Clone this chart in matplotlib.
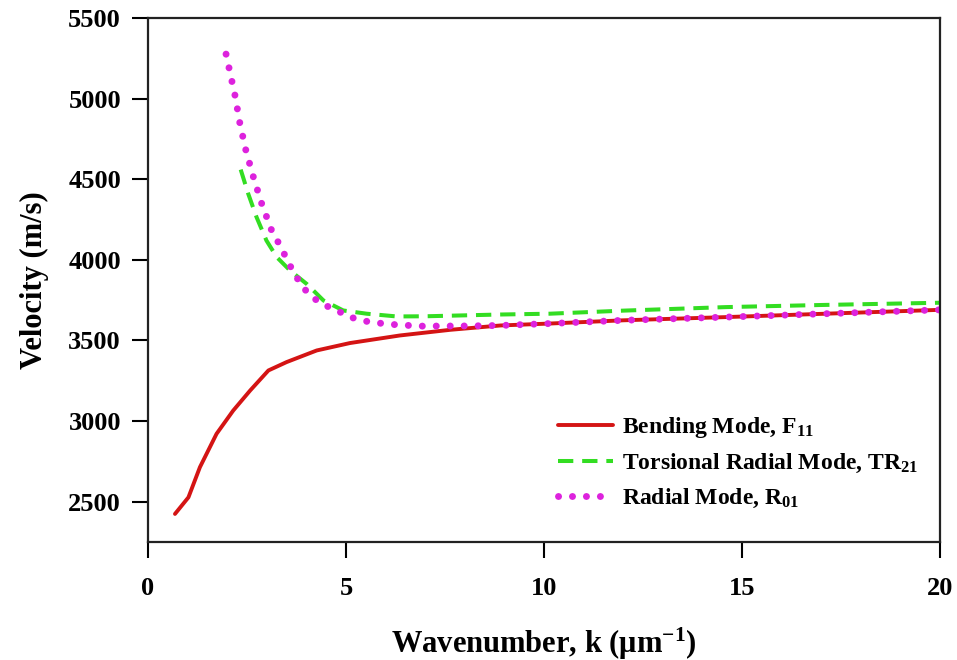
import matplotlib
matplotlib.use("Agg")
import matplotlib.pyplot as plt

# Bending mode F11
k_bend = [0.68, 1.02, 1.31, 1.73, 2.15, 2.58, 3.04, 3.50, 4.26, 5.10, 6.36, 7.63, 8.9, 10.15, 12.0, 14.6, 17.0, 20.0]
v_bend = [2424, 2527, 2714, 2921, 3065, 3190, 3314, 3366, 3438, 3484, 3531, 3566, 3593, 3605, 3625, 3645, 3665, 3690]

# Torsional radial mode TR21
k_tr = [2.34, 2.53, 2.74, 2.99, 3.25, 3.59, 4.01, 4.43, 4.93, 5.52, 6.28, 7.0, 8.9, 10.15, 12.0, 14.6, 17.0, 20.0]
v_tr = [4560, 4410, 4265, 4120, 4017, 3933, 3850, 3748, 3686, 3666, 3649, 3650, 3661, 3666, 3685, 3707, 3720, 3734]

# Radial mode R01
k_rad = [1.97, 2.20, 2.32, 2.47, 2.66, 2.87, 3.12, 3.33, 3.50, 3.67, 3.88, 4.09, 4.39, 4.77, 5.10, 5.48, 5.86, 6.19, 6.87, 8.05, 8.9, 10.15, 12.0, 14.6, 17.0, 20.0]
v_rad = [5276, 5015, 4846, 4680, 4514, 4349, 4183, 4090, 4007, 3924, 3841, 3779, 3727, 3686, 3645, 3620, 3607, 3599, 3589, 3590, 3593, 3605, 3625, 3645, 3665, 3690]

x_ticks = [0, 5, 10, 15, 20]
y_ticks = [2500, 3000, 3500, 4000, 4500, 5000, 5500]

plt.rcParams['font.family'] = ['Liberation Serif', 'DejaVu Serif']
plt.rcParams['font.weight'] = 'bold'
plt.rcParams['mathtext.fontset'] = 'custom'
plt.rcParams['mathtext.rm'] = 'Liberation Serif:bold'
plt.rcParams['mathtext.it'] = 'Liberation Serif:bold'
plt.rcParams['mathtext.bf'] = 'Liberation Serif:bold'

fig = plt.figure(figsize=(9.57, 6.6), dpi=100)
ax = fig.add_axes([0.1547, 0.1788, 0.8275, 0.7939])

ax.plot(k_bend, v_bend, color='#d41414', lw=2.8, solid_capstyle='round',
        label='Bending Mode, F$_{11}$')
ax.plot(k_tr, v_tr, color='#33dd22', lw=2.9, linestyle=(0, (3.8, 2.2)),
        label='Torsional Radial Mode, TR$_{21}$')
ax.plot(k_rad, v_rad, color='#dd22dd', lw=5.0, linestyle=(0, (0.01, 2.0)),
        dash_capstyle='round', label='Radial Mode, R$_{01}$')

ax.set_xlim(0, 20)
ax.set_ylim(2250, 5500)
ax.set_xticks(x_ticks)
ax.set_yticks(y_ticks)
ax.tick_params(direction='out', length=11.5, width=1.5, labelsize=19)
ax.tick_params(axis='x', pad=14)
ax.tick_params(axis='y', pad=8)
for lab in ax.get_xticklabels() + ax.get_yticklabels():
    lab.set_fontweight('bold')
for s in ax.spines.values():
    s.set_linewidth(1.6)
    s.set_color('#222222')

ax.set_xlabel('Wavenumber, k (μm$^{-1}$)', fontsize=22, fontweight='bold', labelpad=18)
ax.set_ylabel('Velocity (m/s)', fontsize=22, fontweight='bold', labelpad=14)

leg = ax.legend(loc='upper left', bbox_to_anchor=(0.518, 0.242), frameon=False,
                fontsize=17, handlelength=2.3, labelspacing=0.5, handletextpad=0.42,
                borderpad=0, borderaxespad=0)

fig.savefig('out.png', dpi=100)
